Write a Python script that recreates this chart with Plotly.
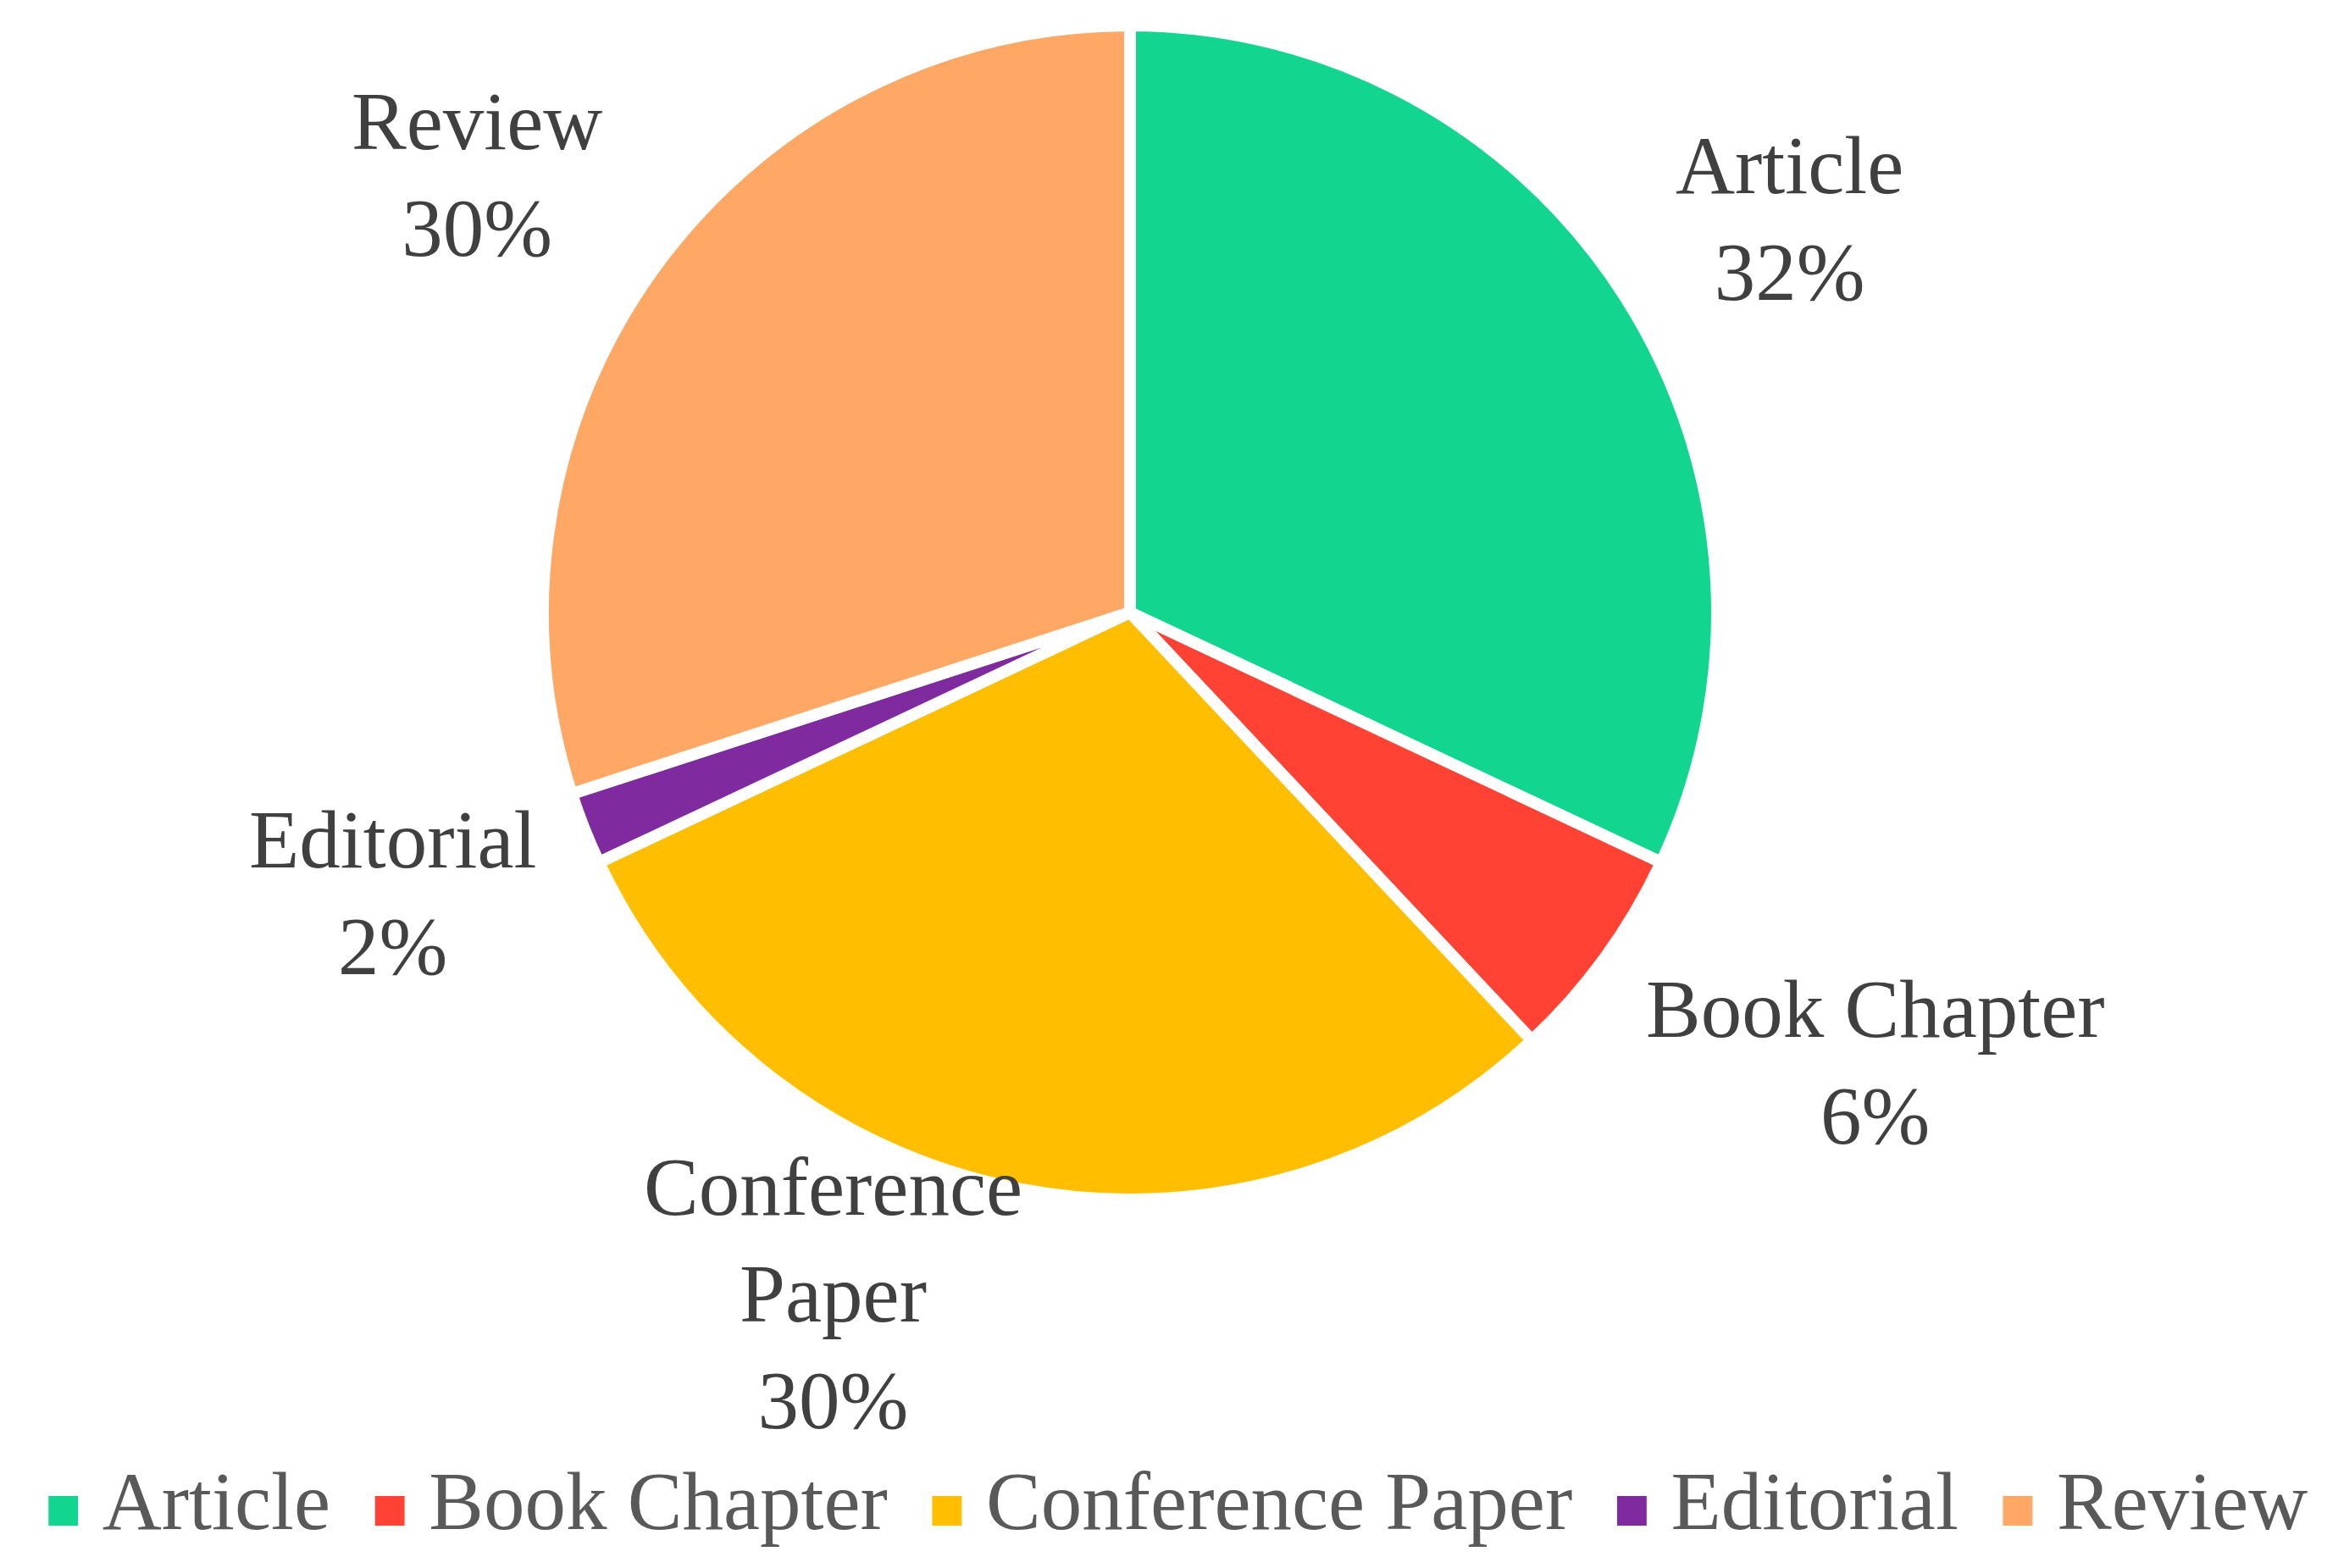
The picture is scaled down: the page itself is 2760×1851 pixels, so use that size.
import math
import plotly.graph_objects as go

categories = ["Article", "Book Chapter", "Conference Paper", "Editorial", "Review"]
values = [32, 6, 30, 2, 30]
pie_labels = ["Article", "Book Chapter", "Conference<br>Paper", "Editorial", "Review"]
colors = ["#12D68F", "#FF4233", "#FFBE00", "#7F2A9F", "#FFA865"]

# label placement (style): angular nudge in degrees and distance in radii
label_shift = [2, -4.5, 12.5, 0.3, -2.6]
label_dist = [1.316, 1.505, 1.29, 1.362, 1.346]

W, H = 2760, 1851
cx, cy, R = 1326, 715, 693  # pie centre / radius in px

FONT = "Liberation Serif"

fig = go.Figure(go.Pie(
    labels=categories,
    values=values,
    sort=False,
    direction="clockwise",
    rotation=0,
    marker=dict(colors=colors, line=dict(color="white", width=14)),
    textinfo="none",
    showlegend=False,
    domain=dict(x=[(cx - R) / W, (cx + R) / W], y=[1 - (cy + R) / H, 1 - (cy - R) / H]),
))

total = sum(values)
start = 0
for lab, v, sh, d in zip(pie_labels, values, label_shift, label_dist):
    mid = (start + v / 2) / total * 360 + sh
    start += v
    a = math.radians(mid)
    px = cx + d * (R - 7) * math.sin(a)
    py = cy - d * (R - 7) * math.cos(a) - 8
    fig.add_annotation(
        x=px / W, y=1 - py / H, xref="paper", yref="paper",
        text=f"{lab}<br>{round(v / total * 100)}%",
        showarrow=False, xanchor="center", yanchor="middle",
        font=dict(family=FONT, size=97, color="#404040"),
    )

# legend row with large square keys
nb = "\u00a0"
items = []
for c, col in zip(categories, colors):
    items.append(f"<span style='color:{col};font-size:72px'>■</span>{nb}{c}")
fig.add_annotation(
    x=0.5, y=1 - 1764 / H, xref="paper", yref="paper",
    text=(nb * 2).join(items),
    showarrow=False, xanchor="center", yanchor="middle",
    borderpad=0,
    font=dict(family=FONT, size=97, color="#595959"),
)

fig.update_layout(
    width=W, height=H,
    margin=dict(l=0, r=0, t=0, b=0),
    paper_bgcolor="white",
    plot_bgcolor="white",
)

fig.write_html("out.html")
